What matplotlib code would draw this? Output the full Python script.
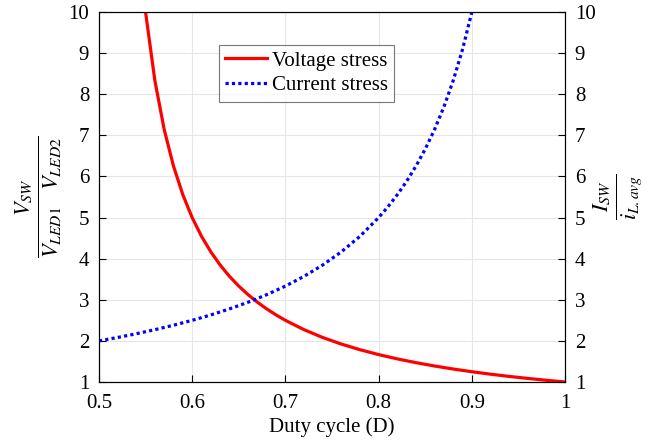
import matplotlib
matplotlib.use('Agg')
import matplotlib.pyplot as plt

# duty cycle values and stresses
duty_v = [0.55, 0.56, 0.57, 0.58, 0.59, 0.60, 0.61, 0.62, 0.63, 0.64, 0.65,
          0.66, 0.67, 0.68, 0.69, 0.70, 0.72, 0.74, 0.76, 0.78, 0.80, 0.82,
          0.84, 0.86, 0.88, 0.90, 0.92, 0.94, 0.96, 0.98, 1.00]
voltage_stress = [10.0, 8.333, 7.143, 6.25, 5.556, 5.0, 4.545, 4.167, 3.846,
                  3.571, 3.333, 3.125, 2.941, 2.778, 2.632, 2.5, 2.273, 2.083,
                  1.923, 1.786, 1.667, 1.563, 1.471, 1.389, 1.316, 1.25, 1.19,
                  1.136, 1.087, 1.042, 1.0]

duty_i = [0.50, 0.52, 0.54, 0.56, 0.58, 0.60, 0.62, 0.64, 0.66, 0.68, 0.70,
          0.72, 0.74, 0.76, 0.78, 0.80, 0.81, 0.82, 0.83, 0.84, 0.85, 0.86,
          0.87, 0.88, 0.89, 0.90]
current_stress = [2.0, 2.083, 2.174, 2.273, 2.381, 2.5, 2.632, 2.778, 2.941,
                  3.125, 3.333, 3.571, 3.846, 4.167, 4.545, 5.0, 5.263, 5.556,
                  5.882, 6.25, 6.667, 7.143, 7.692, 8.333, 9.091, 10.0]

x_ticks = [0.5, 0.6, 0.7, 0.8, 0.9, 1.0]
x_tick_labels = ['0.5', '0.6', '0.7', '0.8', '0.9', '1']
y_ticks = [1, 2, 3, 4, 5, 6, 7, 8, 9, 10]

plt.rcParams['font.family'] = ['Liberation Serif', 'DejaVu Serif']
plt.rcParams['mathtext.fontset'] = 'stix'

fig = plt.figure(figsize=(6.64, 4.43), dpi=100)
ax = fig.add_axes([0.149, 0.1377, 0.702, 0.835])

ax.plot(duty_v, voltage_stress, color='#ff0000', linewidth=2.3, label='Voltage stress')
ax.plot(duty_i, current_stress, color='#0000ff', linewidth=2.3, linestyle=(0, (1, 1)),
        label='Current stress')

ax.set_xlim(0.5, 1.0)
ax.set_ylim(1, 10)
ax.set_xticks(x_ticks)
ax.set_xticklabels(x_tick_labels)
ax.set_yticks(y_ticks)
ax.grid(True, color='#e6e6e6', linewidth=0.8)
ax.tick_params(direction='in', labelsize=15, length=5, width=0.8, pad=7, top=False)
ax.tick_params(axis='x', pad=9)
for s in ax.spines.values():
    s.set_linewidth(0.8)

ax.set_xlabel('Duty cycle (D)', fontsize=15, labelpad=3)
ax.set_ylabel(r'$\frac{V_{SW}}{V_{LED1}\quad V_{LED2}}$', fontsize=23)
ax.yaxis.set_label_coords(-0.128, 0.5)
ax.yaxis.label.set_va('center')

ax2 = ax.twinx()
ax2.set_ylim(1, 10)
ax2.set_yticks(y_ticks)
ax2.tick_params(direction='in', labelsize=15, length=5, width=0.8, pad=7)
ax2.set_ylabel(r'$\frac{I_{SW}}{i_{L.avg}}$', fontsize=23)
ax2.yaxis.set_label_coords(1.1116, 0.5)
ax2.yaxis.label.set_va('center')

leg = ax.legend(loc='upper left', bbox_to_anchor=(0.2575, 0.9116), fontsize=15,
                frameon=True, fancybox=False, edgecolor='#555555', borderaxespad=0,
                handlelength=2.0, borderpad=0.3, labelspacing=0.25, handletextpad=0.25)
leg.get_frame().set_linewidth(0.8)

plt.savefig('out.png', dpi=100)
